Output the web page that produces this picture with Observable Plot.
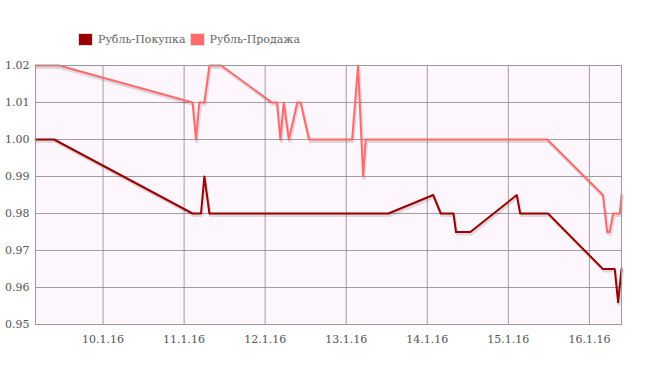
<!DOCTYPE html>
<html>
<head>
<meta charset="utf-8">
<script src="https://cdn.jsdelivr.net/npm/d3@7"></script>
<script src="https://cdn.jsdelivr.net/npm/@observablehq/plot@0.6"></script>
<style>
  html, body { margin: 0; padding: 0; background: #fff; }
  #legend { height: 50px; box-sizing: border-box; padding: 29px 0 0 78px; font-family: "DejaVu Serif", serif; font-size: 11px; color: #666; display: flex; align-items: center; }
  .item { display: flex; align-items: center; margin-right: 4px; }
  .sw { width: 13px; height: 11px; border: 1px solid #ddd; margin-right: 5px; }
</style>
</head>
<body>
<div id="legend"></div>
<div id="chart"></div>
<script>
const seriesNames = ["Рубль-Покупка", "Рубль-Продажа"];
const seriesColors = ["#990000", "#ff6b6b"];

const buyTimes = ["2016-01-09T04:00","2016-01-09T09:30","2016-01-11T02:30","2016-01-11T05:00","2016-01-11T06:00","2016-01-11T07:30","2016-01-13T12:30","2016-01-14T01:45","2016-01-14T04:00","2016-01-14T07:45","2016-01-14T08:30","2016-01-14T12:45","2016-01-15T02:30","2016-01-15T03:30","2016-01-15T11:45","2016-01-16T04:00","2016-01-16T07:30","2016-01-16T08:30","2016-01-16T09:30"];
const buyValues = [1.00,1.00,0.98,0.98,0.99,0.98,0.98,0.985,0.98,0.98,0.975,0.975,0.985,0.98,0.98,0.965,0.965,0.956,0.965];

const sellTimes = ["2016-01-09T04:00","2016-01-09T11:00","2016-01-11T02:30","2016-01-11T03:30","2016-01-11T04:30","2016-01-11T06:00","2016-01-11T07:30","2016-01-11T11:00","2016-01-12T02:00","2016-01-12T03:30","2016-01-12T04:30","2016-01-12T05:30","2016-01-12T07:00","2016-01-12T09:30","2016-01-12T10:30","2016-01-12T13:00","2016-01-13T01:45","2016-01-13T03:30","2016-01-13T05:00","2016-01-13T05:45","2016-01-15T11:30","2016-01-16T04:00","2016-01-16T05:15","2016-01-16T06:00","2016-01-16T07:00","2016-01-16T09:00","2016-01-16T09:30"];
const sellValues = [1.02,1.02,1.01,1.00,1.01,1.01,1.02,1.02,1.01,1.01,1.00,1.01,1.00,1.01,1.01,1.00,1.00,1.02,0.99,1.00,1.00,0.985,0.975,0.975,0.98,0.98,0.985];

const yTicks = [0.95,0.96,0.97,0.98,0.99,1.00,1.01,1.02];

const parse = d3.timeParse("%Y-%m-%dT%H:%M");
const data = [
  ...buyTimes.map((t, i) => ({date: parse(t), value: buyValues[i], series: seriesNames[0]})),
  ...sellTimes.map((t, i) => ({date: parse(t), value: sellValues[i], series: seriesNames[1]}))
];

const legend = document.getElementById("legend");
seriesNames.forEach((n, i) => {
  const it = document.createElement("div");
  it.className = "item";
  it.innerHTML = `<span class="sw" style="background:${seriesColors[i]}"></span><span>${n}</span>`;
  legend.appendChild(it);
});

const xDomain = d3.extent(data, d => d.date);

const chart = Plot.plot({
  width: 670,
  height: 317,
  marginTop: 15,
  marginBottom: 43,
  marginLeft: 35,
  marginRight: 49,
  style: {fontFamily: "DejaVu Serif, serif", fontSize: "11px", color: "#555", background: "transparent"},
  x: {type: "time", domain: xDomain, label: null},
  y: {domain: [0.95, 1.02], label: null},
  color: {domain: seriesNames, range: seriesColors},
  marks: [
    Plot.frame({fill: "#fdf6fd"}),
    Plot.gridY(yTicks, {stroke: "#888", strokeOpacity: 0.8}),
    Plot.gridX({ticks: d3.timeDay, stroke: "#888", strokeOpacity: 0.8}),
    Plot.axisY(yTicks, {tickSize: 0, tickPadding: 6, tickFormat: d3.format(".2f"), fill: "#555", label: null}),
    Plot.axisX({ticks: d3.timeDay, tickSize: 0, tickPadding: 11, tickFormat: d3.timeFormat("%-d.%-m.%y"), fill: "#555", label: null}),
    Plot.line(data, {x: "date", y: "value", z: "series", stroke: "#000", strokeOpacity: 0.12, strokeWidth: 3, dx: 1, dy: 2}),
    Plot.line(data, {x: "date", y: "value", stroke: "series", strokeWidth: 2}),
    Plot.frame({stroke: "#999"})
  ]
});
document.getElementById("chart").appendChild(chart);
</script>
</body>
</html>
